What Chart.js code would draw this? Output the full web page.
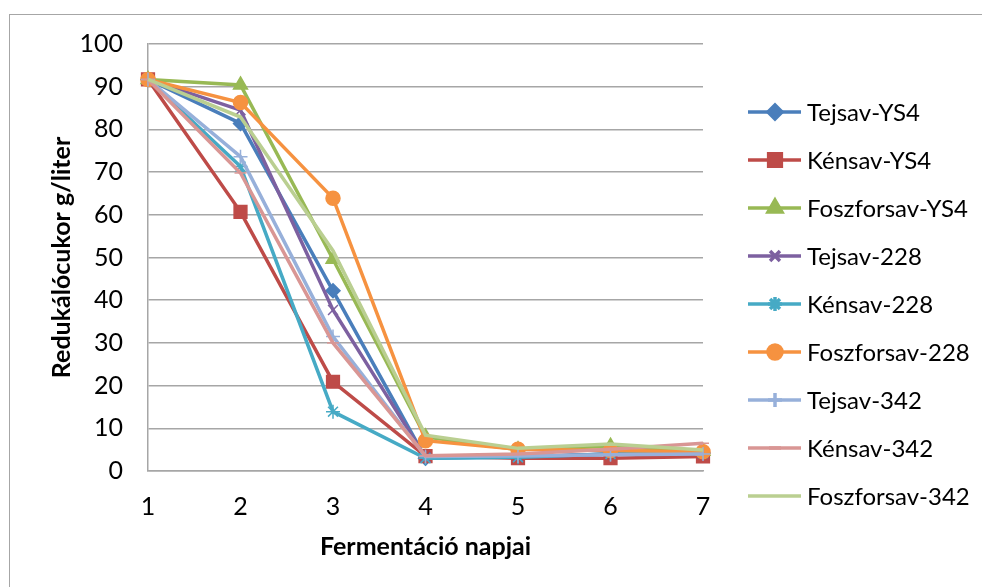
<!DOCTYPE html>
<html>
<head>
<meta charset="utf-8">
<script src="https://cdn.jsdelivr.net/npm/chart.js@4.4.1/dist/chart.umd.min.js"></script>
<style>
    html, body { margin: 0; padding: 0; background: #fff; }
</style>
</head>
<body>
<canvas id="chart" width="982" height="587"></canvas>
<script>
// x categories: fermentation days
const days = ['1', '2', '3', '4', '5', '6', '7'];
const yTicks = [0, 10, 20, 30, 40, 50, 60, 70, 80, 90, 100];

// reducing sugar g/liter
const tejsavYS4      = [91.7, 81.4, 42.2, 3.0, 3.3, 4.0, 4.2];
const kensavYS4      = [91.7, 60.7, 20.9, 3.5, 3.0, 3.0, 3.4];
const foszforsavYS4  = [91.7, 90.4, 49.6, 8.0, 5.0, 5.8, 4.6];
const tejsav228      = [91.7, 84.5, 37.7, 3.2, 3.3, 4.0, 4.2];
const kensav228      = [91.7, 71.3, 13.9, 3.0, 3.2, 4.0, 4.2];
const foszforsav228  = [91.7, 86.3, 63.9, 7.1, 5.1, 4.8, 4.5];
const tejsav342      = [91.7, 73.6, 31.5, 3.4, 3.5, 3.8, 4.0];
const kensav342      = [91.7, 69.8, 30.0, 3.6, 4.0, 5.1, 6.5];
const foszforsav342  = [91.7, 82.9, 51.6, 8.4, 5.3, 6.3, 4.9];

const seriesNames = ['Tejsav-YS4', 'Kénsav-YS4', 'Foszforsav-YS4', 'Tejsav-228', 'Kénsav-228',
    'Foszforsav-228', 'Tejsav-342', 'Kénsav-342', 'Foszforsav-342'];
const seriesData = [tejsavYS4, kensavYS4, foszforsavYS4, tejsav228, kensav228,
    foszforsav228, tejsav342, kensav342, foszforsav342];

const colors = ['#4A7EBB', '#BE4B48', '#98B954', '#7D60A0', '#46AAC5',
    '#F69240', '#97B0DA', '#D99694', '#BACF91'];
const markers = ['rectRot', 'rect', 'triangle', 'crossRot', 'star', 'circle', 'cross', 'line', 'circle'];
const markerSizes = [7, 9, 8, 7, 7, 7, 7, 6, 0];

const FONT = 'Lato, "Open Sans", sans-serif';
const GRID = '#A6A6A6';

document.addEventListener('DOMContentLoaded', () => {
    renderChart();
});

// outer frame of the chart object
const framePlugin = {
    id: 'frame',
    beforeDraw(chart) {
        const ctx = chart.ctx;
        ctx.save();
        ctx.fillStyle = '#fff';
        ctx.fillRect(0, 0, chart.width, chart.height);
        ctx.strokeStyle = GRID;
        ctx.lineWidth = 1;
        ctx.strokeRect(9.5, 14.5, chart.width + 20, chart.height + 20);
        ctx.restore();
    }
};

// Excel style legend: line sample with marker
const sideLegend = {
    id: 'sideLegend',
    afterDraw(chart) {
        const ctx = chart.ctx;
        const x0 = chart.chartArea.right + 45;
        ctx.save();
        chart.data.datasets.forEach((ds, i) => {
            const y = 112 + i * 48;
            ctx.strokeStyle = ds.borderColor;
            ctx.fillStyle = ds.borderColor;
            ctx.lineWidth = 3.5;
            ctx.beginPath();
            ctx.moveTo(x0, y);
            ctx.lineTo(x0 + 53, y);
            ctx.stroke();
            if (ds.pointRadius > 0) {
                Chart.helpers.drawPoint(ctx, {
                    pointStyle: ds.pointStyle,
                    radius: ds.pointRadius,
                    borderWidth: ds.pointBorderWidth,
                    rotation: 0
                }, x0 + 27, y);
            }
            ctx.fillStyle = '#000';
            ctx.font = '24px ' + FONT;
            ctx.textBaseline = 'middle';
            ctx.textAlign = 'left';
            ctx.fillText(ds.label, x0 + 59, y + 1);
        });
        ctx.restore();
    }
};

function renderChart() {
    const ctx = document.getElementById('chart').getContext('2d');
    const datasets = seriesNames.map((name, i) => ({
        label: name,
        data: seriesData[i],
        borderColor: colors[i],
        backgroundColor: colors[i],
        borderWidth: 3.5,
        pointStyle: markers[i],
        pointRadius: markerSizes[i],
        pointHoverRadius: markerSizes[i],
        pointBorderWidth: 1.5,
        tension: 0,
        clip: false,
        order: seriesNames.length - i
    }));

    new Chart(ctx, {
        type: 'line',
        data: {
            labels: days,
            datasets: datasets
        },
        plugins: [framePlugin, sideLegend],
        options: {
            responsive: false,
            devicePixelRatio: 1,
            animation: false,
            layout: { padding: { top: 44, right: 279, bottom: 0, left: 0 } },
            plugins: {
                legend: { display: false },
                tooltip: { enabled: false }
            },
            scales: {
                x: {
                    offset: false,
                    grid: { display: false, drawTicks: false },
                    border: { display: true, color: GRID, width: 1.5 },
                    ticks: { color: '#000', font: { family: FONT, size: 25 }, padding: 21, maxRotation: 0 },
                    title: {
                        display: true,
                        text: 'Fermentáció napjai',
                        color: '#000',
                        font: { family: FONT, size: 25, weight: 'bold' },
                        padding: { top: 0, bottom: 25 }
                    },
                    afterFit: scale => { scale.height = 116; }
                },
                y: {
                    min: 0,
                    max: 100,
                    afterBuildTicks: scale => { scale.ticks = yTicks.map(v => ({ value: v })); },
                    grid: { color: GRID, lineWidth: 1.5, drawTicks: false },
                    border: { display: true, color: GRID, width: 1.5 },
                    ticks: { color: '#000', font: { family: FONT, size: 25 }, padding: 25 },
                    title: {
                        display: true,
                        text: 'Redukálócukor g/liter',
                        color: '#000',
                        font: { family: FONT, size: 25, weight: 'bold' },
                        padding: { top: 47, bottom: 0 }
                    },
                    afterFit: scale => { scale.width = 148; }
                }
            }
        }
    });
}
</script>
</body>
</html>
